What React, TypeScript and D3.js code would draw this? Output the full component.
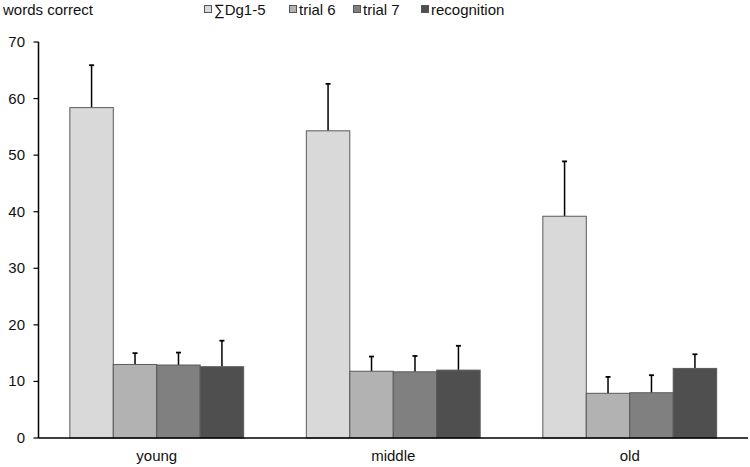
import React from "react";
import * as d3 from "d3";

const groups = ["young", "middle", "old"];
const series = ["∑Dg1-5", "trial 6", "trial 7", "recognition"];
const colors = ["#d9d9d9", "#b2b2b2", "#808080", "#4f4f4f"];
const meanSum = [58.4, 54.3, 39.2];
const meanT6 = [13.0, 11.8, 7.9];
const meanT7 = [12.9, 11.7, 8.0];
const meanRec = [12.6, 12.0, 12.3];
const errSum = [65.9, 62.6, 48.9];
const errT6 = [15.0, 14.4, 10.8];
const errT7 = [15.1, 14.5, 11.1];
const errRec = [17.2, 16.3, 14.8];
const yTicks = [0, 10, 20, 30, 40, 50, 60, 70];

const means = [meanSum, meanT6, meanT7, meanRec];
const errs = [errSum, errT6, errT7, errRec];

export default function App() {
  const W = 750, H = 467;
  const x0 = 38.5, x1 = 748;
  const y = d3.scaleLinear().domain([0, 70]).range([438, 42]);
  const xb = d3.scaleBand<string>().domain(groups).range([x0, x1]).paddingInner(0.265).paddingOuter(0.1325);
  const xs = d3.scaleBand<string>().domain(series).range([0, xb.bandwidth()]);
  const font = "'Liberation Sans', Arial, sans-serif";
  const legendX = [204, 289, 353, 421];
  return (
    <svg width={W} height={H} style={{ position: "absolute", left: 0, top: 0 }} fontFamily={font}>
      <rect width={W} height={H} fill="#fff" />
      <text x={3} y={15} fontSize={15} fill="#111">words correct</text>
      {series.map((s, i) => (
        <g key={s}>
          <rect x={legendX[i] + 0.5} y={5.5} width={7} height={7} fill={colors[i]} stroke="#555" strokeWidth={1} />
          <text x={legendX[i] + 10} y={15} fontSize={15} fill="#111">{s}</text>
        </g>
      ))}
      {groups.map((g, gi) =>
        series.map((s, si) => {
          const bx = (xb(g) as number) + (xs(s) as number);
          const bw = xs.bandwidth();
          const cx = bx + bw / 2;
          return (
            <g key={g + s}>
              <line x1={cx} x2={cx} y1={y(means[si][gi])} y2={y(errs[si][gi])} stroke="#000" strokeWidth={1.5} />
              <line x1={cx - 2.5} x2={cx + 2.5} y1={y(errs[si][gi])} y2={y(errs[si][gi])} stroke="#000" strokeWidth={1.8} />
              <rect x={bx} y={y(means[si][gi])} width={bw} height={y(0) - y(means[si][gi])} fill={colors[si]} stroke="#5a5a5a" strokeWidth={1} />
            </g>
          );
        })
      )}
      <line x1={x0} x2={x0} y1={y(70)} y2={y(0)} stroke="#000" strokeWidth={1.5} />
      <line x1={x0} x2={x1} y1={y(0)} y2={y(0)} stroke="#000" strokeWidth={1.5} />
      {yTicks.map((t) => (
        <g key={t}>
          <line x1={x0 - 5} x2={x0} y1={y(t)} y2={y(t)} stroke="#000" strokeWidth={1.2} />
          <text x={25} y={y(t) + 5} fontSize={15} textAnchor="end" fill="#111">{t}</text>
        </g>
      ))}
      {groups.map((g) => (
        <text key={g} x={(xb(g) as number) + xb.bandwidth() / 2} y={461} fontSize={15} textAnchor="middle" fill="#111">{g}</text>
      ))}
    </svg>
  );
}
